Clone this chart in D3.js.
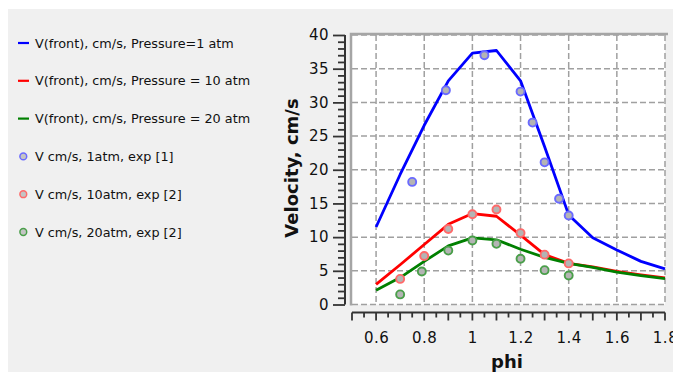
<!DOCTYPE html>
<html>
<head>
<meta charset="utf-8">
<script src="https://cdn.jsdelivr.net/npm/d3@7/dist/d3.min.js"></script>
<style>
  html, body { margin: 0; padding: 0; background: #ffffff; }
  svg { display: block; }
  text { font-family: "DejaVu Sans", Verdana, sans-serif; fill: #111; }
</style>
</head>
<body>
<svg id="chart" width="673" height="372"></svg>
<script>
// Equivalence ratio grid for the computed flame-front velocities
const phiModel = [0.6, 0.7, 0.8, 0.9, 1.0, 1.1, 1.2, 1.3, 1.4, 1.5, 1.6, 1.7, 1.8];
const vFront1atm  = [11.5, 19.3, 26.6, 33.2, 37.3, 37.7, 33.2, 23.4, 13.3, 9.9, 8.1, 6.4, 5.3];
const vFront10atm = [3.0, 5.9, 8.9, 11.9, 13.5, 13.1, 10.3, 7.4, 6.1, 5.6, 4.9, 4.4, 3.95];
const vFront20atm = [2.1, 4.0, 6.4, 8.7, 9.9, 9.6, 8.2, 7.0, 6.1, 5.5, 4.8, 4.3, 3.85];

// Experimental measurements
const exp1Phi  = [0.75, 0.89, 1.05, 1.2, 1.25, 1.3, 1.36, 1.4];
const exp1V    = [18.2, 31.8, 37.0, 31.6, 27.0, 21.1, 15.7, 13.2];
const exp10Phi = [0.7, 0.8, 0.9, 1.0, 1.1, 1.2, 1.3, 1.4];
const exp10V   = [3.8, 7.2, 11.2, 13.4, 14.1, 10.6, 7.4, 6.1];
const exp20Phi = [0.7, 0.79, 0.9, 1.0, 1.1, 1.2, 1.3, 1.4];
const exp20V   = [1.5, 4.9, 8.0, 9.5, 9.0, 6.8, 5.1, 4.3];

const legendLabels = [
  "V(front), cm/s, Pressure=1 atm",
  "V(front), cm/s, Pressure = 10 atm",
  "V(front), cm/s, Pressure = 20 atm",
  "V cm/s, 1atm, exp [1]",
  "V cm/s, 10atm, exp [2]",
  "V cm/s, 20atm, exp [2]"
];
const xTickValues = [0.6, 0.8, 1.0, 1.2, 1.4, 1.6, 1.8];
const yTickValues = [0, 5, 10, 15, 20, 25, 30, 35, 40];

const lineColors = ["#0000ff", "#ff0000", "#008000"];
const ringColors = ["#6a6aff", "#ff6a6a", "#4a9f4a"];

const svg = d3.select("#chart");

// Window panel
svg.append("rect").attr("x", 8).attr("y", 9).attr("width", 665).attr("height", 363).attr("fill", "#f0f0f0");

const x = d3.scaleLinear().domain([0.5, 1.8]).range([352, 665]);
const y = d3.scaleLinear().domain([0, 40]).range([304.5, 35]);

// Plot area
svg.append("rect")
  .attr("x", x(0.5)).attr("y", y(40))
  .attr("width", x(1.8) - x(0.5)).attr("height", y(0) - y(40))
  .attr("fill", "#ffffff");

// Dashed grid
const grid = svg.append("g").attr("stroke", "#a0a0a0").attr("stroke-width", 1.5).attr("stroke-dasharray", "6,3");
grid.selectAll("line.gx").data(xTickValues).join("line")
  .attr("x1", d => x(d)).attr("x2", d => x(d))
  .attr("y1", y(40)).attr("y2", y(0));
grid.selectAll("line.gy").data(yTickValues).join("line")
  .attr("x1", x(0.5)).attr("x2", x(1.8))
  .attr("y1", d => y(d)).attr("y2", d => y(d));

// Frame on the left and top edges
svg.append("path")
  .attr("d", `M${x(0.5) - 1},${y(0) + 1}V${y(40) - 1}H${x(1.8) + 3}`)
  .attr("fill", "none").attr("stroke", "#a5a5a5").attr("stroke-width", 2.5);

// Model curves
const line = d3.line().x(d => x(d[0])).y(d => y(d[1]));
[vFront1atm, vFront10atm, vFront20atm].forEach((vals, i) => {
  svg.append("path")
    .datum(phiModel.map((p, j) => [p, vals[j]]))
    .attr("d", line)
    .attr("fill", "none")
    .attr("stroke", lineColors[i])
    .attr("stroke-width", 2.8)
    .attr("stroke-linejoin", "round");
});

// Experimental points
[[exp1Phi, exp1V], [exp10Phi, exp10V], [exp20Phi, exp20V]].forEach(([ps, vs], i) => {
  svg.append("g").selectAll("circle")
    .data(ps.map((p, j) => [p, vs[j]]))
    .join("circle")
    .attr("cx", d => x(d[0])).attr("cy", d => y(d[1]))
    .attr("r", 4)
    .attr("fill", "#b4b4b4")
    .attr("stroke", ringColors[i])
    .attr("stroke-width", 1.9);
});

// Y axis (separate from the plot frame, ticks to the left)
const yAxisX = 345;
const yAxis = d3.axisLeft(y).tickValues(yTickValues).tickSize(12).tickPadding(4).tickFormat(d3.format("d"));
const gy = svg.append("g").attr("transform", `translate(${yAxisX},0)`).call(yAxis);
gy.select(".domain").attr("stroke", "#333").attr("stroke-width", 2).attr("d", `M0,${y(0)}V${y(40)}`);
gy.selectAll(".tick line").attr("stroke", "#333").attr("stroke-width", 1.8);
gy.selectAll(".tick text").attr("font-size", 15).attr("font-family", "DejaVu Sans").attr("fill", "#1a1a2a").attr("letter-spacing", "0.5px");
const yMinor = d3.axisLeft(y).tickValues(d3.range(0, 41, 1).filter(v => v % 5 !== 0)).tickSize(7).tickFormat("");
const gym = svg.append("g").attr("transform", `translate(${yAxisX},0)`).call(yMinor);
gym.select(".domain").remove();
gym.selectAll(".tick line").attr("stroke", "#333").attr("stroke-width", 1.8);

// X axis (below the plot, ticks downward)
const xAxisY = 312.5;
const xAxis = d3.axisBottom(x).tickValues(xTickValues).tickSize(0).tickPadding(20).tickFormat(d => d3.format("")(+d.toFixed(1)));
const gx = svg.append("g").attr("transform", `translate(0,${xAxisY})`).call(xAxis);
gx.select(".domain").attr("stroke", "#333").attr("stroke-width", 2).attr("d", `M${x(0.5)},0H${x(1.8)}`);
gx.selectAll(".tick text").attr("font-size", 15).attr("font-family", "DejaVu Sans").attr("fill", "#1a1a2a").attr("letter-spacing", "0.5px");
const xTickAll = d3.range(0, 27).map(k => +(0.5 + k * 0.05).toFixed(2));
const gxt = svg.append("g").attr("transform", `translate(0,${xAxisY})`);
gxt.selectAll("line").data(xTickAll).join("line")
  .attr("x1", d => x(d)).attr("x2", d => x(d))
  .attr("y1", 0)
  .attr("y2", d => (Math.round(d * 100) % 10 === 0 ? 8 : 5))
  .attr("stroke", "#333").attr("stroke-width", 1.8);

// Axis titles
svg.append("text").attr("x", 507).attr("y", 368).attr("text-anchor", "middle")
  .attr("font-size", 18).attr("font-weight", "bold").attr("fill", "#111").text("phi");
svg.append("text").attr("transform", "translate(298,168) rotate(-90)").attr("text-anchor", "middle")
  .attr("font-size", 18).attr("font-weight", "bold").attr("fill", "#111").text("Velocity, cm/s");

// Legend
const legend = svg.append("g");
legendLabels.forEach((label, i) => {
  const cy = 43 + i * 37.8;
  if (i < 3) {
    legend.append("line").attr("x1", 18).attr("x2", 29).attr("y1", cy).attr("y2", cy)
      .attr("stroke", lineColors[i]).attr("stroke-width", 2.2);
  } else {
    legend.append("circle").attr("cx", 23.3).attr("cy", cy).attr("r", 3.4)
      .attr("fill", "#c4c4c4").attr("stroke", ringColors[i - 3]).attr("stroke-width", 1.5);
  }
  legend.append("text").attr("x", 35).attr("y", cy).attr("dy", "0.36em")
    .attr("font-size", 12.8).attr("fill", "#15152a").text(label);
});
</script>
</body>
</html>
